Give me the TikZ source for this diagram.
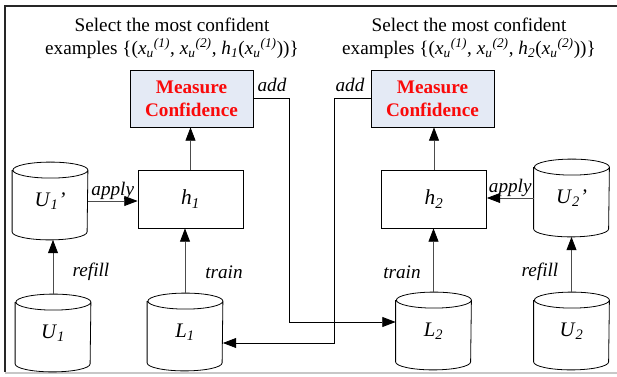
\documentclass[tikz,border=0pt]{standalone}
\usepackage{fontspec}
\setmainfont{Liberation Serif}
\usetikzlibrary{arrows.meta, positioning}

\definecolor{mcfill}{RGB}{228,234,245}
\definecolor{mcred}{RGB}{250,10,10}
\newcommand{\ivar}[2]{\textit{#1}\textsubscript{\textit{#2}}}

\begin{document}
\begin{tikzpicture}[x=0.75pt, y=-0.75pt, line width=0.6pt,
      every node/.style={font=\fontsize{14.4}{17.3}\selectfont},
      conf/.style={draw, fill=mcfill, minimum width=92.25pt, minimum height=42.75pt,
                   align=center, text=mcred, font=\fontsize{14.4}{17.3}\selectfont\bfseries},
      learner/.style={draw, minimum width=78.75pt, minimum height=43.5pt,
                      font=\fontsize{16}{19}\selectfont},
      store/.style={minimum width=56.25pt, minimum height=57.75pt, inner sep=0pt,
                    font=\fontsize{15.5}{18}\selectfont},
      lbl/.style={font=\fontsize{14.4}{17.3}\selectfont\itshape, text=black, inner sep=1pt},
      ttl/.style={align=center, inner sep=0pt},
      flow/.style={black!70, -{Triangle[length=10pt, width=7.5pt, color=black]}},
      link/.style={black, -{Triangle[length=10pt, width=7.5pt]}}]

    \useasboundingbox (0,0) rectangle (617,377);

    % frame
    \draw[black!85, line width=1pt] (617,6) -- (5,6) -- (5,372);
    \draw[black!22, line width=1.5pt] (5,372.5) -- (617,372.5);

    % titles
    \node[ttl] (ttl1) at (172,38) {Select the most confident\\
      examples \{(\ivar{x}{u}\textsuperscript{\textit{(1)}}, \ivar{x}{u}\textsuperscript{\textit{(2)}}, \ivar{h}{1}(\ivar{x}{u}\textsuperscript{\textit{(1)}}))\}};
    \node[ttl] (ttl2) at (469,38) {Select the most confident\\
      examples \{(\ivar{x}{u}\textsuperscript{\textit{(1)}}, \ivar{x}{u}\textsuperscript{\textit{(2)}}, \ivar{h}{2}(\ivar{x}{u}\textsuperscript{\textit{(2)}}))\}};

    % measure boxes and learners
    \node[conf] (mc1) at (191.5,98.5) {Measure\\Confidence};
    \node[conf] (mc2) at (432.5,98.5) {Measure\\Confidence};
    \node[learner] (h1) at (190.5,199) {\ivar{h}{1}};
    \node[learner] (h2) at (434,199)   {\ivar{h}{2}};

    % data stores (cylinders drawn below)
    \node[store] (U1p) at (50,201)    {\ivar{U}{1}\textit{'}};
    \node[store] (U1)  at (53,333)    {\ivar{U}{1}};
    \node[store] (L1)  at (185,332)   {\ivar{L}{1}};
    \node[store] (L2)  at (433.5,331) {\ivar{L}{2}};
    \node[store] (U2p) at (571.5,198) {\ivar{U}{2}\textit{'}};
    \node[store] (U2)  at (571.5,331) {\ivar{U}{2}};

    \foreach \n in {U1p, U1, L1, L2, U2p, U2} {
      \draw (\n.north west) ++(0,-6pt) -- ([yshift=6pt]\n.south west)
        arc[start angle=180, end angle=360, x radius=28.125pt, y radius=6pt]
        -- ([yshift=-6pt]\n.north east)
        arc[start angle=0, end angle=180, x radius=28.125pt, y radius=6pt]
        arc[start angle=180, end angle=360, x radius=28.125pt, y radius=6pt];
    }

    % connectors
    \draw[flow] (h1.north) -- (h1.north |- mc1.south);
    \draw[flow] (h2.north) -- (h2.north |- mc2.south);
    \draw[flow] (U1p.east) -- (U1p.east -| h1.west)
      node[lbl, midway, above] (ap1) {apply};
    \draw[flow] (U2p.west) -- (U2p.west -| h2.east)
      node[lbl, midway, above] (ap2) {apply};
    \draw[flow] (U1.north) -- (U1.north |- U1p.south);
    \draw[flow] (U2.north) -- (U2.north |- U2p.south);
    \draw[flow] (L1.north) -- (L1.north |- h1.south);
    \draw[flow] (L2.north) -- (L2.north |- h2.south);

    \node[lbl] (rf1) at (91,272)  {refill};
    \node[lbl] (tr1) at (224,272) {train};
    \node[lbl] (tr2) at (402,272) {train};
    \node[lbl] (rf2) at (540,272) {refill};

    % exchange of confident examples
    \coordinate (jA) at (289,322);
    \coordinate (jB) at (334,343);
    \draw[link] (mc1.east) -| (jA) -- (jA -| L2.west);
    \draw[link] (mc2.west) -| (jB) -- (jB -| L1.east);
    \node[lbl] (ad1) at (272,85) {add};
    \node[lbl] (ad2) at (350,85) {add};

\end{tikzpicture}
\end{document}
